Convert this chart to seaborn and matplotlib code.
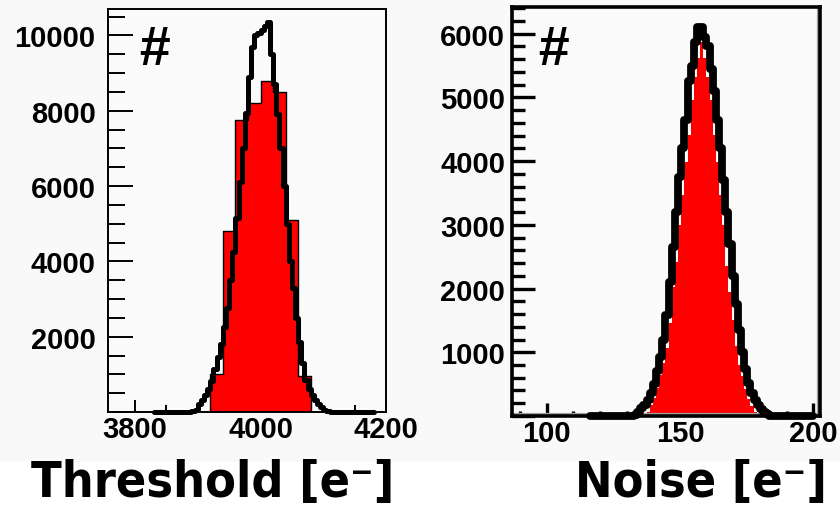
#!/usr/bin/env python3
"""Threshold / noise distributions (two ROOT-style histograms) redrawn with seaborn."""

import numpy as np
import pandas as pd
import matplotlib
matplotlib.use("Agg")
import matplotlib.pyplot as plt
from matplotlib.ticker import MultipleLocator, FuncFormatter
from matplotlib.lines import Line2D
from matplotlib.patches import Rectangle
import seaborn as sns

# ---------------------------------------------------------------------------
# Threshold panel (left): black = fine binning, red = coarse binning
# ---------------------------------------------------------------------------
THR_BLACK_START = 3830
THR_BLACK_WIDTH = 5
thr_black_counts = [0] * 12 + [
    20, 60, 220, 330, 450, 620, 820, 1150, 1450, 1800,
    2250, 2750, 3500, 4250, 5150, 6100, 7000, 7950, 8900, 9700,
    10000, 10050, 10150, 10250, 10350, 9500, 8700, 7900, 7000, 6000,
    5000, 4000, 3300, 2500, 1850, 1300, 850, 600, 450, 320,
    200, 120, 60, 20,
] + [0] * 14

THR_RED_START = 3920
THR_RED_WIDTH = 20
thr_red_counts = [1000, 4800, 7750, 8200, 8800, 8500, 5100, 950]

# ---------------------------------------------------------------------------
# Noise panel (right)
# ---------------------------------------------------------------------------
NOISE_BLACK_START = 116.24
NOISE_WIDTH = 1.18
noise_black_counts = [0] * 14 + [
    20, 60, 120, 180, 250, 360, 500, 700, 930, 1200,
    1580, 2100, 2650, 3200, 3750, 4200, 4650, 5250, 5500, 5870,
    6100, 6100, 5950, 5800, 5450, 5100, 4650, 4200, 3700, 3200,
    2700, 2200, 1750, 1350, 1000, 740, 520, 360, 250, 170,
    110, 60, 25,
] + [0] * 14

NOISE_RED_START = 136.3
noise_red_counts = [
    20, 70, 174, 279, 435, 647, 827, 1062, 1454, 2032,
    2421, 2995, 3465, 3988, 4416, 4953, 5320, 5622, 5868, 5622,
    5320, 4953, 4416, 3988, 3465, 3000, 2350, 1950, 1500, 1100,
    800, 620, 430, 270, 160, 60,
]

X_LABELS = ["Threshold [e\u207b]", "Noise [e\u207b]"]


def draw_hist(ax, start, width, counts, **kws):
    """Weighted histogram from pre-binned counts."""
    edges = start + width * np.arange(len(counts) + 1)
    df = pd.DataFrame({"x": edges[:-1] + width / 2, "n": counts})
    sns.histplot(data=df, x="x", weights="n", bins=list(edges),
                 element="step", ax=ax, **kws)


def style_axes(ax, xmaj, xmin, ymaj, ymin, frame_lw, tick_w,
               ylen, xlen, ypad):
    ax.set_xlabel("")
    ax.set_ylabel("")
    ax.set_facecolor("#fafafa")
    ax.xaxis.set_major_locator(MultipleLocator(xmaj))
    ax.xaxis.set_minor_locator(MultipleLocator(xmin))
    ax.yaxis.set_major_locator(MultipleLocator(ymaj))
    ax.yaxis.set_minor_locator(MultipleLocator(ymin))
    ax.yaxis.set_major_formatter(FuncFormatter(lambda v, p: "" if v == 0 else f"{v:.0f}"))
    ax.xaxis.set_major_formatter(FuncFormatter(lambda v, p: f"{v:.0f}"))
    ax.tick_params(which="both", direction="in", top=False, right=False,
                   width=tick_w, color="black", labelcolor="black",
                   labelsize=21)
    ax.tick_params(axis="y", which="major", length=ylen[0], pad=ypad)
    ax.tick_params(axis="y", which="minor", length=ylen[1])
    ax.tick_params(axis="x", which="major", length=xlen[0], pad=2)
    ax.tick_params(axis="x", which="minor", length=xlen[1])
    for s in ax.spines.values():
        s.set_linewidth(frame_lw)
        s.set_color("black")
        s.set_visible(True)


def main():
    sns.set_theme(style="ticks")
    plt.rcParams["font.family"] = ["Liberation Sans", "DejaVu Sans"]
    plt.rcParams["font.weight"] = "bold"
    plt.rcParams["text.color"] = "black"

    fig = plt.figure(figsize=(8.4, 5.1), dpi=100)
    fig.patch.set_facecolor("#f9f9f9")
    fig.patches.append(Rectangle((0, 0), 1, 0.092, transform=fig.transFigure,
                                 facecolor="white", edgecolor="none", zorder=0))

    ax1 = fig.add_axes([0.1286, 0.1902, 0.3310, 0.7902])
    ax2 = fig.add_axes([0.6095, 0.1824, 0.3667, 0.8020])

    # ---- left: threshold ----
    draw_hist(ax1, THR_RED_START, THR_RED_WIDTH, thr_red_counts,
              fill=True, facecolor="#ff0000", edgecolor="black",
              linewidth=1.0, alpha=1)
    draw_hist(ax1, THR_BLACK_START, THR_BLACK_WIDTH, thr_black_counts,
              fill=False, color="black", linewidth=3.6, clip_on=False)
    ax1.set_xlim(3757, 4200)
    ax1.set_ylim(0, 10700)
    style_axes(ax1, 200, 50, 2000, 500, frame_lw=1.4, tick_w=1.4,
               ylen=(18, 12), xlen=(9, 5), ypad=9)

    # ---- right: noise ----
    draw_hist(ax2, NOISE_RED_START, NOISE_WIDTH, noise_red_counts,
              fill=True, facecolor="#ff0000", edgecolor="none",
              linewidth=0, alpha=1)
    draw_hist(ax2, NOISE_BLACK_START, NOISE_WIDTH, noise_black_counts,
              fill=False, color="black", linewidth=5.6, clip_on=False)
    ax2.set_xlim(87, 202.5)
    ax2.set_ylim(0, 6420)
    style_axes(ax2, 50, 10, 1000, 200, frame_lw=2.6, tick_w=2.4,
               ylen=(16.5, 9.5), xlen=(9.5, 3.6), ypad=5)
    # grey shadow just inside the bottom/right frame
    for xs, ys in (([0, 1], [0.006, 0.006]), ([0.994, 0.994], [0, 1])):
        ax2.add_line(Line2D(xs, ys, transform=ax2.transAxes,
                            color="#a0a0a0", linewidth=1.6, zorder=1))

    # "#" markers in the corners
    ax1.text(0.108, 0.962, "#", transform=ax1.transAxes, fontsize=40,
             fontstyle="italic", fontweight="bold", va="top", ha="left")
    ax2.text(0.081, 0.958, "#", transform=ax2.transAxes, fontsize=40,
             fontstyle="italic", fontweight="bold", va="top", ha="left")

    # big axis titles below the panels
    for xc, label in zip([213 / 840, 701 / 840], X_LABELS):
        fig.text(xc, 13 / 510, label, ha="center", va="baseline",
                 fontsize=36, family=["DejaVu Sans"], stretch="condensed",
                 fontweight="bold", color="black")

    fig.savefig("out.png", dpi=100, facecolor=fig.get_facecolor())
    plt.close(fig)


if __name__ == "__main__":
    main()
